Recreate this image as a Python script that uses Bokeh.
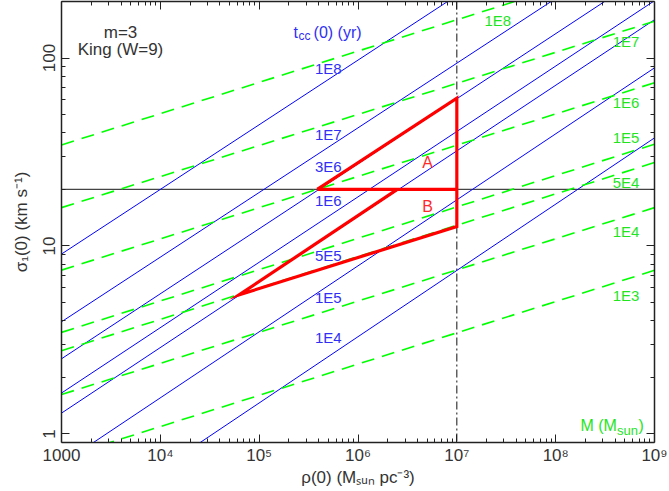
from bokeh.plotting import figure
from bokeh.models import (Range1d, FixedTicker, LogAxis, CustomJSTickFormatter,
                          Label, Span, ColumnDataSource)
from bokeh.embed import file_html
from bokeh.resources import INLINE
from bokeh.core.properties import value

FONT = "Liberation Sans"
TXT = "#333333"
BLUE = "#0000ff"
BLUE_TXT = "#2f2ff5"
GREEN = "#00ff00"
GREEN_TXT = "#1fe51f"
RED = "#ff0000"

# ---------------- data ----------------
rho_ends = [1.0e3, 1.0e9]

# core-collapse time lines (blue): sigma at rho=1e3 and rho=1e9
tcc_labels = ["1E8", "1E7", "3E6", "1E6", "5E5", "1E5", "1E4"]
tcc_sigma_at_1e3 = [9.06, 3.95, 2.51, 1.65, 1.29, 0.693, 0.288]
tcc_sigma_at_1e9 = [1050.0, 458.0, 299.0, 202.0, 160.0, 88.7, 37.6]
tcc_label_rho = [5.0e5, 5.0e5, 5.0e5, 5.0e5, 5.0e5, 5.0e5, 5.0e5]
tcc_label_sigma = [87.9, 39.3, 26.6, 17.4, 8.86, 5.32, 3.26]

# cluster mass lines (green dashed)
mass_labels = ["1E8", "1E7", "1E6", "1E5", "5E4", "1E4", "1E3"]
mass_sigma_at_1e3 = [34.5, 16.0, 7.44, 3.47, 2.77, 1.62, 0.746]
mass_sigma_at_1e9 = [344.0, 157.0, 73.9, 34.8, 27.8, 16.0, 7.42]
mass_label_rho = [2.6e7, 5.15e8, 5.15e8, 5.15e8, 5.15e8, 5.15e8, 5.15e8]
mass_label_sigma = [157.9, 123.1, 57.7, 37.6, 21.7, 11.9, 5.43]

# red regions A / B
region_rho = [3.87e5, 1.0e7, 1.0e7, 6.24e4, 2.5e6]
region_sigma = [20.0, 61.1, 12.7, 5.49, 20.0]
divider_rho = [3.87e5, 1.0e7]
divider_sigma = [20.0, 20.0]
region_names = ["A", "B"]
region_label_rho = [5.05e6, 5.05e6]
region_label_sigma = [27.8, 16.2]

sigma_ref = 20.0
rho_ref = 1.0e7

x_major = [1e3, 1e4, 1e5, 1e6, 1e7, 1e8, 1e9]
x_minor = [k * 10.0 ** n for n in range(3, 9) for k in range(2, 10)]
y_major = [1, 10, 100]
y_minor = [2, 3, 4, 5, 6, 7, 8, 9, 20, 30, 40, 50, 60, 70, 80, 90, 200]

# ---------------- figure ----------------
p = figure(width=669, height=491, x_axis_type="log", y_axis_type="log",
           x_range=Range1d(1e3, 1e9), y_range=Range1d(0.9, 200),
           output_backend="svg", toolbar_location=None,
           min_border_left=61, min_border_right=15, min_border_top=1,
           min_border_bottom=49, background_fill_color="white",
           border_fill_color="white")
p.xgrid.visible = False
p.ygrid.visible = False
p.outline_line_color = None


def style_axis(ax, ticks, minor):
    ax.ticker = FixedTicker(ticks=ticks, minor_ticks=minor)
    ax.axis_line_color = "#222222"
    ax.axis_line_width = 1.5
    ax.major_tick_in = 8
    ax.major_tick_out = 0
    ax.minor_tick_in = 4
    ax.minor_tick_out = 0
    ax.major_tick_line_color = "#222222"
    ax.minor_tick_line_color = "#222222"
    ax.major_tick_line_width = 1
    ax.minor_tick_line_width = 1
    ax.major_label_text_font = FONT
    ax.major_label_text_font_size = "17px"
    ax.major_label_text_color = TXT
    ax.axis_label_text_font = FONT
    ax.axis_label_text_font_size = "17px"
    ax.axis_label_text_font_style = "normal"
    ax.axis_label_text_color = TXT


fmt = CustomJSTickFormatter(code="""
const e = Math.round(Math.log10(tick));
if (e <= 3) { return String(Math.round(tick)); }
const sup = ["\\u2070","\\u00b9","\\u00b2","\\u00b3","\\u2074","\\u2075","\\u2076","\\u2077","\\u2078","\\u2079"];
return "10" + sup[e];
""")

xa = p.xaxis[0]
style_axis(xa, x_major, x_minor)
xa.formatter = fmt
xa.axis_label = "\u03c1(0) (M\u209b\u1d64\u2099 pc\u207b\u00b3)"
xa.major_label_standoff = 3
xa.axis_label_standoff = 0

ya = p.yaxis[0]
style_axis(ya, y_major, y_minor)
ya.formatter = fmt
ya.major_label_orientation = "parallel"
ya.axis_label = "\u03c3\u2081(0) (km s\u207b\u00b9)"
ya.major_label_standoff = 6
ya.axis_label_standoff = 10

for side in ("above", "right"):
    ax = LogAxis()
    style_axis(ax, x_major if side == "above" else y_major,
               x_minor if side == "above" else y_minor)
    ax.major_label_text_font_size = "1px"
    ax.major_label_text_alpha = 0
    ax.major_label_standoff = 0
    p.add_layout(ax, side)

# reference lines
p.add_layout(Span(location=sigma_ref, dimension="width", line_color="#444444",
                  line_width=1.2, level="underlay"))
p.add_layout(Span(location=rho_ref, dimension="height", line_color="#111111",
                  line_width=1, line_dash="8 3 2 3", level="underlay"))

# blue t_cc lines
tcc_xs = [rho_ends for _ in tcc_labels]
tcc_ys = [[a, b] for a, b in zip(tcc_sigma_at_1e3, tcc_sigma_at_1e9)]
p.multi_line(xs=tcc_xs, ys=tcc_ys, line_color=BLUE, line_width=1)

# green mass lines
m_xs = [rho_ends for _ in mass_labels]
m_ys = [[a, b] for a, b in zip(mass_sigma_at_1e3, mass_sigma_at_1e9)]
p.multi_line(xs=m_xs, ys=m_ys, line_color=GREEN, line_width=1.6,
             line_dash="13 8")

# red regions
p.line(region_rho, region_sigma, line_color=RED, line_width=3.2,
       line_join="miter")
p.line(divider_rho, divider_sigma, line_color=RED, line_width=3.2)

# labels on lines
src_t = ColumnDataSource(dict(x=tcc_label_rho, y=tcc_label_sigma, t=tcc_labels))
p.text(x="x", y="y", text="t", source=src_t, text_align="center",
       text_baseline="middle", text_font=value(FONT), text_font_size="15px",
       text_color=BLUE_TXT)
src_m = ColumnDataSource(dict(x=mass_label_rho, y=mass_label_sigma, t=mass_labels))
p.text(x="x", y="y", text="t", source=src_m, text_align="center",
       text_baseline="middle", text_font=value(FONT), text_font_size="15px",
       text_color=GREEN_TXT)
src_r = ColumnDataSource(dict(x=region_label_rho, y=region_label_sigma, t=region_names))
p.text(x="x", y="y", text="t", source=src_r, text_align="center",
       text_baseline="middle", text_font=value(FONT), text_font_size="16px",
       text_color="#ff2a2a")


def lab(text, x, y, color, size, xo=0, yo=0, align="left"):
    p.add_layout(Label(x=x, y=y, text=text, x_offset=xo, y_offset=yo,
                       text_color=color, text_font=FONT, text_font_size=size,
                       text_align=align, text_baseline="alphabetic"))


# corner texts
lab("m=3", 3954, 136.3, TXT, "17px", align="center")
lab("King (W=9)", 3954, 111.2, TXT, "17px", align="center")

# t_cc(0) (yr) title
lab("t", 2.23e5, 137.4, BLUE_TXT, "16px")
lab("cc", 2.23e5, 137.4, BLUE_TXT, "12px", xo=5, yo=-4)
lab("(0) (yr)", 2.23e5, 137.4, BLUE_TXT, "16px", xo=20)

# M (M_sun)
lab("M (M", 1.784e8, 1.107, GREEN_TXT, "16px")
lab("sun", 1.784e8, 1.107, GREEN_TXT, "13px", xo=36.5, yo=-5)
lab(")", 1.784e8, 1.107, GREEN_TXT, "16px", xo=58)

open("out.html", "w", encoding="utf-8").write(file_html(p, INLINE))
